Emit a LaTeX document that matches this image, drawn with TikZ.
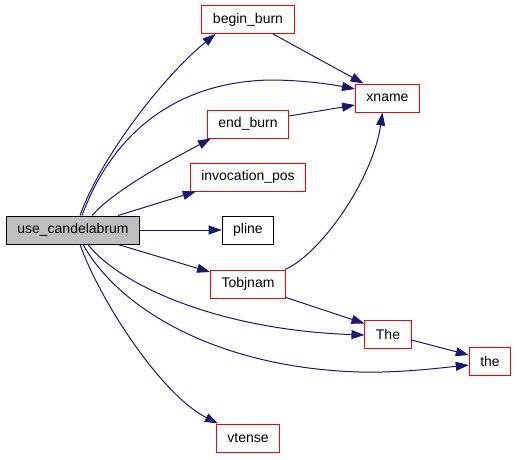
\documentclass[tikz,border=0pt]{standalone}
\usepackage{fontspec}
\newfontfamily\dxfont{Liberation Sans}
\usetikzlibrary{arrows.meta,calc}
\definecolor{edgeblue}{HTML}{191970}
\definecolor{boxred}{HTML}{FF0000}
\definecolor{rootgray}{HTML}{BFBFBF}

\begin{document}
\begin{tikzpicture}[x=1pt,y=-1pt,
    fn/.style={rectangle,draw=boxred,fill=white,line width=1pt,minimum height=28pt,inner xsep=11pt,font=\dxfont\fontsize{14}{16}\selectfont},
    call/.style={draw=edgeblue,line width=1pt,-{Triangle[length=13pt,width=9pt]}}]
        \useasboundingbox (0,0) rectangle (517,459);

        \node[fn,draw=black,fill=rootgray] (uc) at (73,230) {use\_candelabrum};

        \node[fn] (bb) at (248,19.5) {begin\_burn};
        \node[fn] (eb) at (248,124) {end\_burn};
        \node[fn] (ip) at (248,177) {invocation\_pos};
        \node[fn,draw=black] (pl) at (248,230) {pline};
        \node[fn] (tj) at (248,284) {Tobjnam};
        \node[fn] (vt) at (248,438) {vtense};

        \node[fn] (xn) at (387.5,98) {xname};
        \node[fn] (theup) at (388,334) {The};
        \node[fn,draw=red] (thelow) at (490,361) {the};

        \draw[call] ($(uc.north)+(7,0)$) .. controls +(20,-56) and +(-55,45) .. ($(bb.south west)+(14,0)$);
        \draw[call] ($(uc.north)+(9,0)$) .. controls +(28,-76) and +(-100,2) .. (270,80) .. controls +(30,0) and +(-25,-5) .. ($(xn.west)+(0,-9)$);
        \draw[call] ($(uc.north)+(19,0)$) .. controls +(23,-26) and +(-41,22) .. ($(eb.south west)+(4,0)$);
        \draw[call] ($(uc.north)+(45,0)$) -- ($(ip.south west)+(6,0)$);
        \draw[call] (uc) -- (pl);
        \draw[call] ($(uc.south)+(45,0)$) -- ($(tj.west)+(0,-12)$);
        \draw[call] ($(uc.south)+(15,0)$) .. controls +(32,41) and +(-145,-5) .. ($(theup.west)+(0,1)$);
        \draw[call] ($(uc.south)+(10,0)$) .. controls +(37,66) and +(-140,-4) .. (360,372) .. controls +(40,1) and +(-29,3) .. ($(thelow.west)+(0,4)$);
        \draw[call] ($(uc.south)+(7,0)$) .. controls +(20,56) and +(-57,-29) .. ($(vt.north west)+(2,0)$);

        \draw[call] ($(bb.south)+(25,0)$) -- ($(xn.north)+(-24,0)$);
        \draw[call] ($(eb.east)+(0,-8)$) -- ($(xn.west)+(0,7)$);
        \draw[call] ($(tj.north east)+(-1,0)$) .. controls +(35,-15) and +(-10,68) .. ($(xn.south)+(-5,0)$);
        \draw[call] ($(tj.south east)+(0,-1)$) -- ($(theup.north west)+(0,4)$);
        \draw[call] ($(theup.east)+(0,6)$) -- ($(thelow.west)+(0,-6)$);

    \end{tikzpicture}
\end{document}
